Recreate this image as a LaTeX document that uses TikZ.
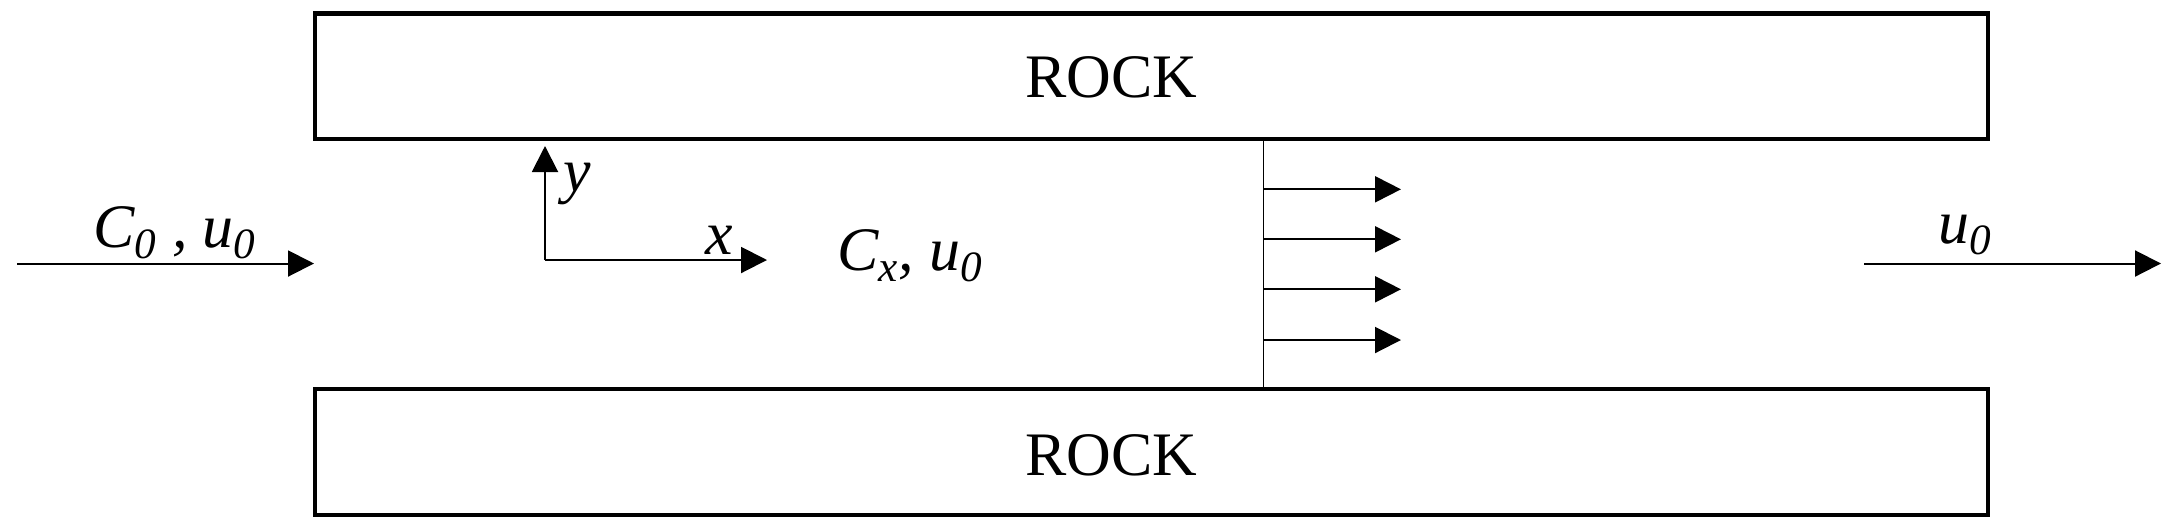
\documentclass[tikz,border=0pt]{standalone}
\usepackage{fontspec}
\setmainfont{Liberation Serif}
\usetikzlibrary{arrows.meta,positioning}
\newcommand{\lowsub}[1]{\raisebox{-3.4pt}{\fontsize{12.3}{14}\selectfont #1}}

\begin{document}
\begin{tikzpicture}[>={Triangle[length=2.6mm,width=2.6mm]},
  every node/.style={inner sep=0pt,font=\fontsize{17.6}{20}\selectfont},
  wall/.style={line width=1.15pt},
  flow/.style={->,line width=0.57pt}]
\useasboundingbox (0,0) rectangle (21.72,5.30);
% rock walls
\draw [wall] (3.147,3.91) rectangle (19.88,5.165);
\draw [wall] (3.147,0.15) rectangle (19.88,1.41);
\node (rocktop) at (11.11,4.53) {ROCK};
\node (rockbot) at (11.11,0.75) {ROCK};
% inlet
\coordinate (inlet) at (0.17,2.665);
\coordinate (inletend) at (3.14,2.665);
\draw [flow] (inlet) -- (inletend);
\node (cin) [anchor=base west] at (0.93,2.83) {\itshape C\lowsub{0} , u\lowsub{0}};
% axes
\coordinate (origin) at (5.45,2.70);
\coordinate (ytip) at (5.45,3.84);
\coordinate (xtip) at (7.67,2.70);
\draw [flow] (origin) -- (ytip);
\draw [flow] (origin) -- (xtip);
\node (ylab) [anchor=west] at (5.63,3.46) {\itshape y};
\node (xlab) [anchor=base west] at (7.05,2.76) {\itshape x};
\node (cx) [anchor=base west] at (8.37,2.60) {\itshape C\lowsub{x}, u\lowsub{0}};
% front
\coordinate (fronttop) at (12.635,3.91);
\coordinate (frontbot) at (12.635,1.41);
\draw [line width=0.55pt] (fronttop) -- (frontbot);
\foreach \y [count=\i] in {3.407,2.907,2.407,1.90} {
  \coordinate (fa\i) at (12.635,\y);
  \coordinate (fb\i) at (14.01,\y);
  \draw [flow] (fa\i) -- (fb\i);
}
% outlet
\coordinate (outlet) at (18.64,2.665);
\coordinate (outletend) at (21.61,2.665);
\draw [flow] (outlet) -- (outletend);
\node (uout) [anchor=base west] at (19.38,2.87) {\itshape u\lowsub{0}};
\end{tikzpicture}
\end{document}
